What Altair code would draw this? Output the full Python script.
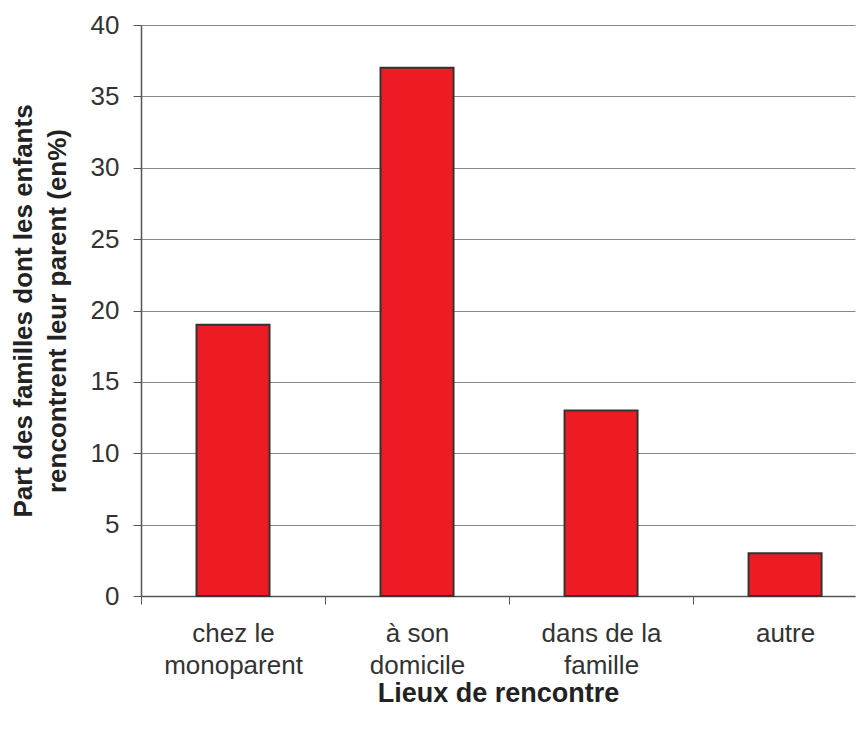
import altair as alt
import pandas as pd

categories = ["chez le monoparent", "à son domicile", "dans de la famille", "autre"]
label_lines = [["chez le", "monoparent"], ["à son", "domicile"], ["dans de la", "famille"], ["autre"]]
values = [19, 37, 13, 3]
y_ticks = [0, 5, 10, 15, 20, 25, 30, 35, 40]

df = pd.DataFrame({"cat": categories, "pos": list(range(len(categories))), "val": values})

boundaries = [i - 0.5 for i in range(len(categories))]
expr_parts = []
for b, lines in zip(boundaries, label_lines):
    arr = "[" + ",".join("'" + s + "'" for s in lines) + "]"
    expr_parts.append((b, arr))
label_expr = "''"
for b, arr in reversed(expr_parts):
    label_expr = f"datum.value == {b} ? {arr} : ({label_expr})"

font = "Liberation Sans"

chart = alt.Chart(df).mark_bar(
    size=73, color="#ED1C24", stroke="#333333", strokeWidth=2
).encode(
    x=alt.X("pos:Q",
            scale=alt.Scale(domain=[-0.5, 3.38], nice=False, zero=False, padding=0),
            axis=alt.Axis(values=boundaries, labelExpr=label_expr, labelOffset=92,
                          labelFlush=False, labelOverlap=False, labelAlign="center",
                          labelFontSize=26, labelFont=font, labelColor="#333333",
                          labelLineHeight=32, labelPadding=16, labelBaseline="top",
                          tickSize=8, tickColor="#555555", domainColor="#555555",
                          domainWidth=1.5, grid=False,
                          title="Lieux de rencontre", titleFont=font, titleFontSize=27,
                          titleFontWeight="bold", titleColor="#222222", titlePadding=2)),
    y=alt.Y("val:Q",
            scale=alt.Scale(domain=[0, 40], nice=False),
            axis=alt.Axis(values=y_ticks, labelFontSize=26, labelFont=font,
                          labelColor="#333333", labelPadding=14,
                          tickSize=8, tickColor="#555555", domainColor="#555555",
                          domainWidth=1.5, gridColor="#888888", gridWidth=1,
                          title=["Part des familles dont les enfants", "rencontrent leur parent (en%)"],
                          titleFont=font, titleFontSize=26, titleFontWeight="bold",
                          titleColor="#222222", titleLineHeight=34, titlePadding=20)),
).properties(
    width=714, height=571,
    autosize=alt.AutoSizeParams(type="none"),
    padding={"left": 133, "top": 17, "right": 3, "bottom": 125},
).configure_view(stroke=None)

chart.save("out.html", embed_options={"renderer": "svg", "actions": False})
